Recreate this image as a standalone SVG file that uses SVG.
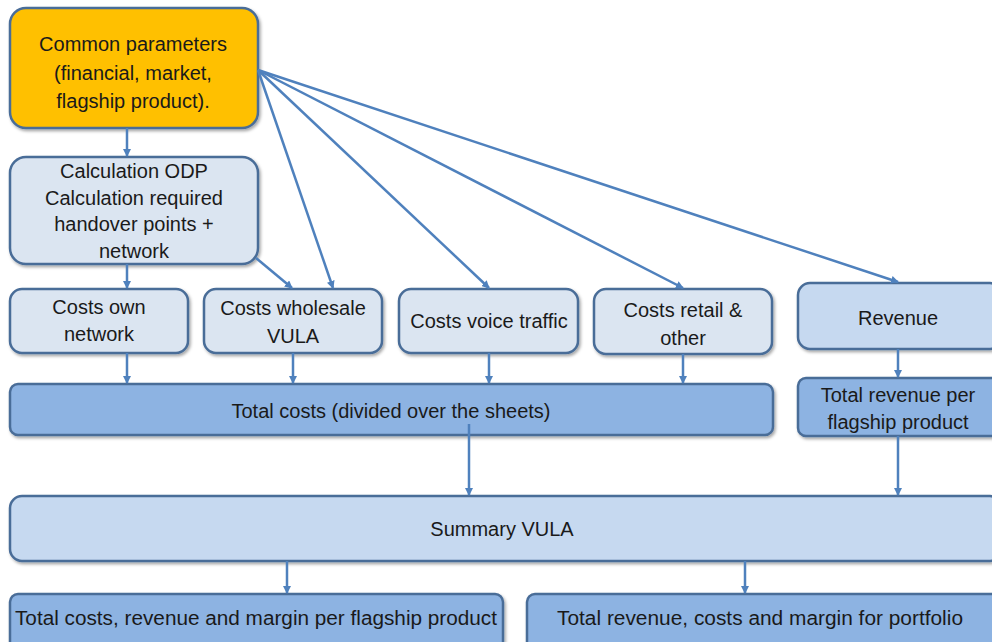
<svg xmlns="http://www.w3.org/2000/svg" width="992" height="642" viewBox="0 0 992 642">
<style>
.box{stroke:#4a6d98;stroke-width:2.5}
.y{fill:#ffc000}
.l{fill:#dbe5f1}
.m{fill:#c6d9f0}
.d{fill:#8db3e2}
text{font-family:"Liberation Sans",Arial,sans-serif;font-size:20px;fill:#1a1a1a;text-anchor:middle}
.c line{stroke:#4f81bd;stroke-width:2.5;marker-end:url(#ah)}
</style>
<defs>
<marker id="ah" markerWidth="8" markerHeight="8" refX="7" refY="4" orient="auto" markerUnits="userSpaceOnUse"><path d="M0,0 L8,4 L0,8 Z" fill="#4f81bd"/></marker>
<filter id="sh" x="-5%" y="-5%" width="110%" height="120%"><feDropShadow dx="1.5" dy="2" stdDeviation="1.5" flood-color="#000" flood-opacity="0.35"/></filter>
</defs>
<rect width="992" height="642" fill="#fff"/>
<g id="common"><rect class="box y" x="10" y="8" width="248" height="120" rx="16" filter="url(#sh)"/><text x="133" y="51">Common parameters</text><text x="133" y="80">(financial, market,</text><text x="133" y="108">flagship product).</text></g>
<g id="calc"><rect class="box l" x="10" y="157" width="248" height="107" rx="16" filter="url(#sh)"/><text x="134" y="178">Calculation ODP</text><text x="134" y="205">Calculation required</text><text x="134" y="231">handover points +</text><text x="134" y="258">network</text></g>
<g id="own"><rect class="box l" x="10" y="289" width="178" height="64" rx="12" filter="url(#sh)"/><text x="99" y="314">Costs own</text><text x="99" y="341">network</text></g>
<g id="wholesale"><rect class="box l" x="204" y="289" width="178" height="64" rx="12" filter="url(#sh)"/><text x="293" y="315">Costs wholesale</text><text x="293" y="343">VULA</text></g>
<g id="voice"><rect class="box l" x="399" y="289" width="179" height="64" rx="12" filter="url(#sh)"/><text x="489" y="328">Costs voice traffic</text></g>
<g id="retail"><rect class="box l" x="594" y="289" width="178" height="65" rx="12" filter="url(#sh)"/><text x="683" y="317">Costs retail &amp;</text><text x="683" y="345">other</text></g>
<g id="revenue"><rect class="box m" x="798" y="283" width="204" height="66" rx="12" filter="url(#sh)"/><text x="898" y="325">Revenue</text></g>
<g id="totalcosts"><rect class="box d" x="10" y="384" width="763" height="51" rx="8" filter="url(#sh)"/><text x="391" y="418">Total costs (divided over the sheets)</text></g>
<g id="totalrev"><rect class="box d" x="798" y="378" width="204" height="58" rx="8" filter="url(#sh)"/><text x="898" y="402">Total revenue per</text><text x="898" y="429">flagship product</text></g>
<g id="summary"><rect class="box m" x="10" y="496" width="992" height="65" rx="12" filter="url(#sh)"/><text x="502" y="536">Summary VULA</text></g>
<g id="bottom1"><rect class="box d" x="10" y="594" width="493" height="60" rx="8" filter="url(#sh)"/><text x="256" y="625" textLength="482" lengthAdjust="spacingAndGlyphs">Total costs, revenue and margin per flagship product</text></g>
<g id="bottom2"><rect class="box d" x="527" y="594" width="475" height="60" rx="8" filter="url(#sh)"/><text x="760" y="625" textLength="406" lengthAdjust="spacingAndGlyphs">Total revenue, costs and margin for portfolio</text></g>
<g class="c" id="connectors">
<line x1="127" y1="128" x2="127" y2="156"/>
<line x1="258" y1="70" x2="333" y2="288"/>
<line x1="258" y1="70" x2="489" y2="288"/>
<line x1="258" y1="70" x2="683" y2="288"/>
<line x1="258" y1="70" x2="898" y2="282"/>
<line x1="256" y1="258" x2="292" y2="288"/>
<line x1="127" y1="264" x2="127" y2="288"/>
<line x1="127" y1="353" x2="127" y2="383"/>
<line x1="293" y1="353" x2="293" y2="383"/>
<line x1="489" y1="353" x2="489" y2="383"/>
<line x1="683" y1="354" x2="683" y2="383"/>
<line x1="898" y1="349" x2="898" y2="377"/>
<line x1="469" y1="424" x2="469" y2="495"/>
<line x1="898" y1="436" x2="898" y2="495"/>
<line x1="287" y1="561" x2="287" y2="593"/>
<line x1="745" y1="561" x2="745" y2="593"/>
</g>
</svg>
